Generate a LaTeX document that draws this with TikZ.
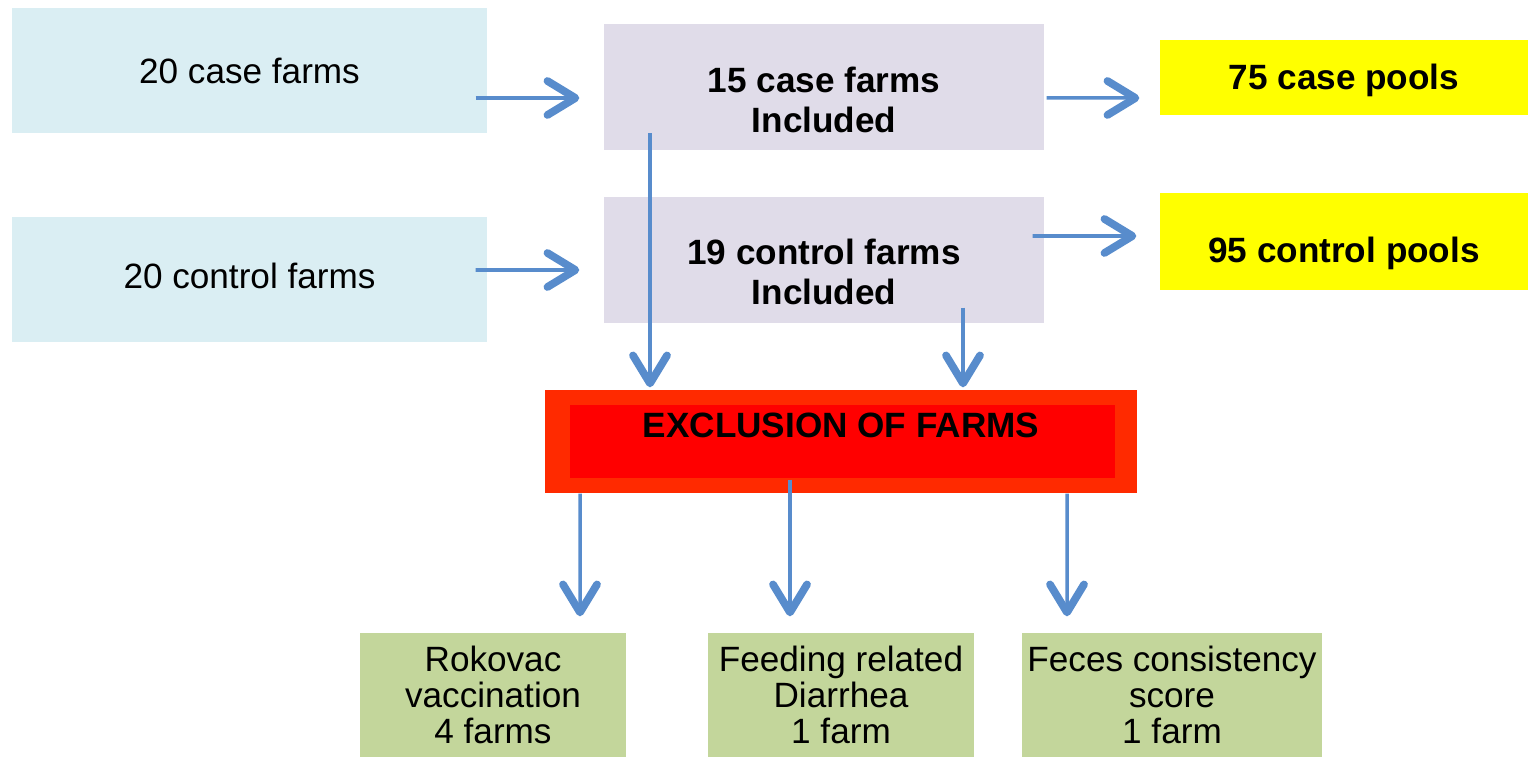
\documentclass[tikz,border=0pt]{standalone}
\usepackage{fontspec}
\setmainfont{Liberation Sans}
\usetikzlibrary{arrows.meta}
\definecolor{farmblue}{RGB}{218,238,243}
\definecolor{inclav}{RGB}{224,220,233}
\definecolor{poolyellow}{RGB}{255,255,0}
\definecolor{exclouter}{RGB}{255,42,0}
\definecolor{exclinner}{RGB}{255,0,0}
\definecolor{resgreen}{RGB}{195,214,155}
\definecolor{arrblue}{RGB}{88,140,204}
\begin{document}
\begin{tikzpicture}[
    box/.style={inner sep=0pt, align=center, font=\fontsize{10pt}{10.3pt}\selectfont},
    farm/.style={box, fill=farmblue, minimum width=4.75cm, minimum height=1.25cm},
    incl/.style={box, fill=inclav, minimum width=4.4cm, minimum height=1.26cm},
    pool/.style={box, fill=poolyellow, minimum width=3.68cm},
    result/.style={box, fill=resgreen, minimum height=1.24cm},
    txt/.style={align=center, inner sep=0pt, font=\fontsize{10pt}{11.4pt}\selectfont\bfseries},
    arrow/.style={draw=arrblue, line width=1pt, -{Straight Barb[length=2.8mm, width=3.4mm, line width=2.2pt, round]}}
]
\useasboundingbox (0,0) rectangle (15.28,-7.57);

% Farms
\node[farm] (c20) at (2.495,-0.705) {20 case farms};
\node[farm] (k20) at (2.495,-2.80) {\raisebox{0.08cm}{20 control farms}};

% Included
\node[incl] (inc15) at (8.24,-0.875) {};
\node[txt] (inc15t) at ([yshift=-0.125cm]inc15.center) {15 case farms\\Included};
\node[incl] (inc19) at (8.24,-2.60) {};
\node[txt] (inc19t) at ([yshift=-0.12cm]inc19.center) {19 control farms\\Included};

% Pools
\node[pool, minimum height=0.75cm] (p75) at (13.44,-0.775) {};
\node[txt] (p75t) at ([yshift=-0.025cm]p75.center) {75 case pools};
\node[pool, minimum height=0.97cm] (p95) at (13.44,-2.415) {};
\node[txt] (p95t) at ([yshift=-0.115cm]p95.center) {95 control pools};

% Exclusion
\node[box, fill=exclouter, minimum width=5.92cm, minimum height=1.03cm] (excl) at (8.41,-4.415) {};
\node[box, fill=exclinner, minimum width=5.45cm, minimum height=0.73cm] (exclin) at (8.425,-4.415) {};
\node[txt] (exclt) at ([yshift=0.165cm]excl.center) {EXCLUSION OF FARMS};

% Reasons
\node[result, minimum width=2.66cm] (rok) at (4.93,-6.95) {Rokovac\\vaccination\\4 farms};
\node[result, minimum width=2.66cm] (feed) at (8.41,-6.95) {Feeding related\\Diarrhea\\1 farm};
\node[result, minimum width=3.0cm] (fec) at (11.72,-6.95) {Feces consistency\\score\\1 farm};

% Arrows
\draw[arrow] ([shift={(-0.12,-0.275)}]c20.east) -- ([shift={(-0.24,-0.105)}]inc15.west);
\draw[arrow] ([shift={(0.02,-0.105)}]inc15.east) -- ([shift={(-0.20,-0.205)}]p75.west);
\draw[arrow] ([shift={(-0.12,0.10)}]k20.east) -- ([shift={(-0.24,-0.10)}]inc19.west);
\draw[arrow] ([shift={(-0.12,0.24)}]inc19.east) -- ([shift={(-0.23,0.055)}]p95.west);
\draw[arrow] ([shift={(-1.74,0.18)}]inc15.south) -- ([shift={(-1.91,0.02)}]excl.north);
\draw[arrow] ([shift={(1.39,0.16)}]inc19.south) -- ([shift={(1.22,0.02)}]excl.north);
\draw[arrow] ([shift={(-2.61,0)}]excl.south) -- ([shift={(0.87,0.16)}]rok.north);
\draw[arrow] ([shift={(-0.51,0.14)}]excl.south) -- ([shift={(-0.51,0.16)}]feed.north);
\draw[arrow] ([shift={(2.26,0)}]excl.south) -- ([shift={(-1.05,0.16)}]fec.north);

\end{tikzpicture}
\end{document}
